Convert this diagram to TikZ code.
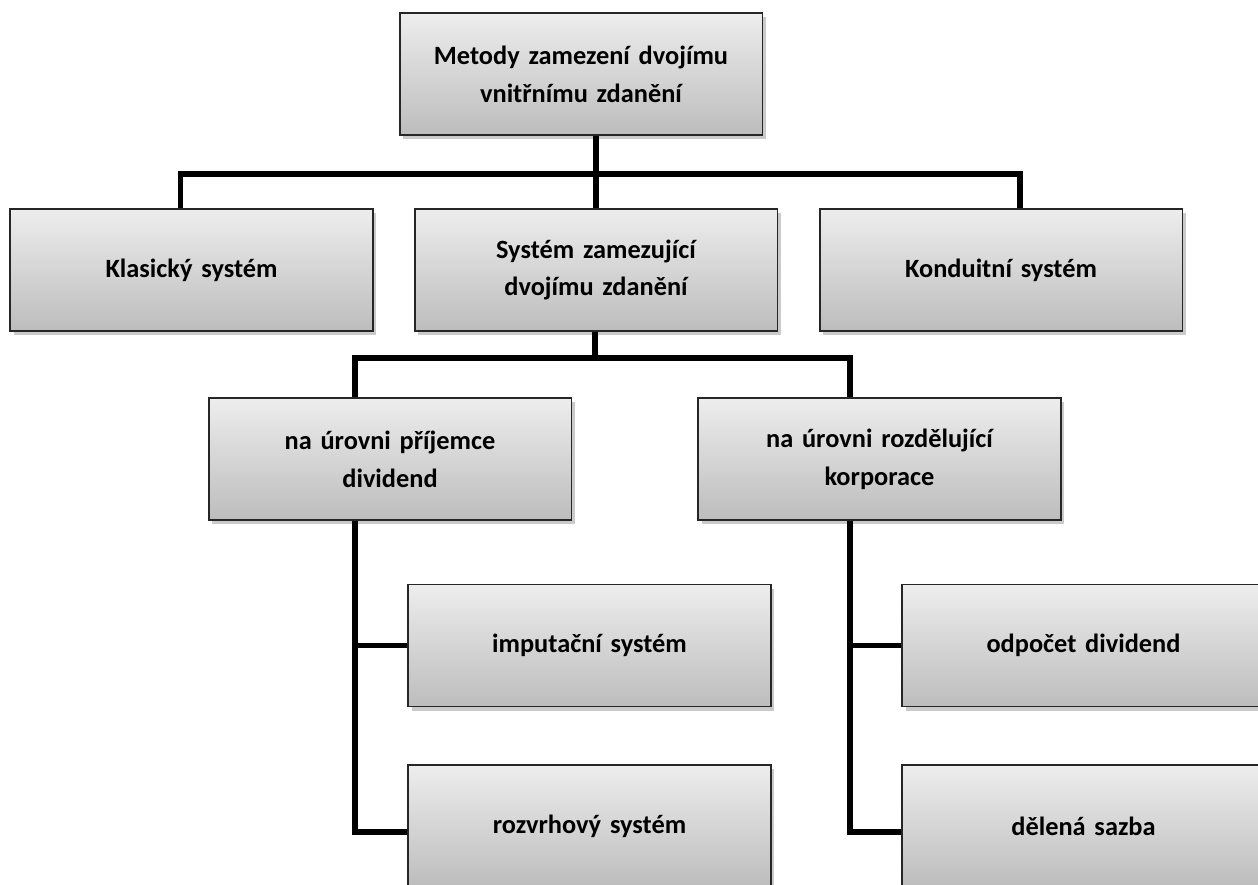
\documentclass[tikz,border=0pt]{standalone}
\usepackage{fontspec}
\setmainfont{Carlito}
\usetikzlibrary{shadows}

\begin{document}
\begin{tikzpicture}[x=0.02cm,y=-0.02cm,
    box node/.style={rectangle,draw=black!85,line width=1.1pt,
        top color=black!7,bottom color=black!26,
        drop shadow={shadow xshift=2pt,shadow yshift=-2.5pt,opacity=0.35,fill=black!60},
        minimum width=7.26cm,minimum height=2.44cm,text width=6.8cm,align=center,
        font=\fontsize{15}{21.6}\selectfont\bfseries},
    conn/.style={line width=3.2pt,black}]
    \useasboundingbox (0,0) rectangle (1258,885);

    \node[box node] (top) at (581,74) {Metody zamezení dvojímu\\vnitřnímu zdanění};

    \node[box node] (klas) at (191.5,270) {Klasický systém};
    \node[box node] (sys) at (596,270) {Systém zamezující\\dvojímu zdanění};
    \node[box node] (kond) at (1001,270) {Konduitní systém};

    \node[box node] (prij) at (390,459) {na úrovni příjemce\\dividend};
    \node[box node] (rozd) at (879.5,459) {na úrovni rozdělující\\korporace};

    \node[box node] (imput) at (589.5,645.5) {imputační systém};
    \node[box node] (rozvrh) at (589.5,826) {rozvrhový systém};
    \node[box node] (odpocet) at (1083.5,645.5) {odpočet dividend};
    \node[box node] (delena) at (1083.5,826) {dělená sazba};

    \coordinate (f1) at (595,174);
    \coordinate (f2) at (595,358);

    % first level
    \draw[conn] (top.south -| sys.north) -- (sys.north);
    \draw[conn] ([xshift=-0.22cm]klas.north) |- (f1) -| ([xshift=0.38cm]kond.north);

    % second level
    \draw[conn] (sys.south -| f2) -- (f2);
    \draw[conn] ([xshift=-0.7cm]prij.north) |- (f2) -| ([xshift=-0.59cm]rozd.north);

    % third level
    \draw[conn] ([xshift=-0.7cm]prij.south) |- (imput.west);
    \draw[conn] ([xshift=-0.7cm]prij.south) |- ([yshift=-0.12cm]rozvrh.west);
    \draw[conn] ([xshift=-0.59cm]rozd.south) |- (odpocet.west);
    \draw[conn] ([xshift=-0.59cm]rozd.south) |- ([yshift=-0.12cm]delena.west);
\end{tikzpicture}
\end{document}
